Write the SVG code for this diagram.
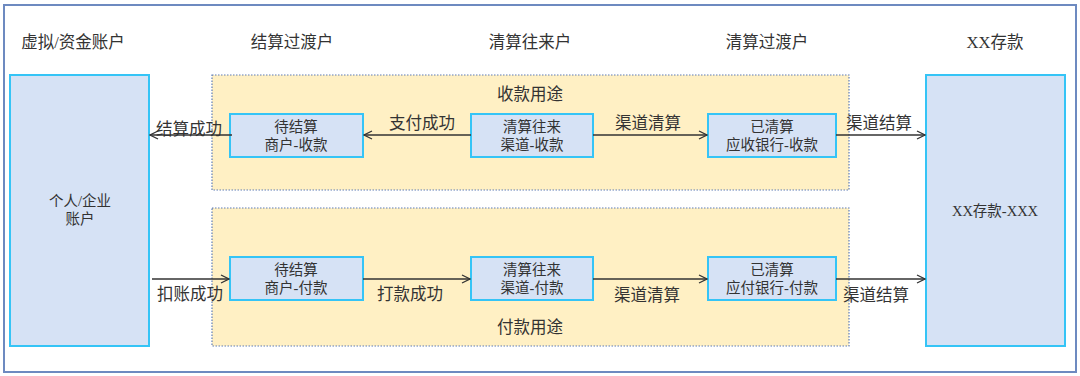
<svg xmlns="http://www.w3.org/2000/svg" width="1080" height="376" viewBox="0 0 1080 376">
<style>
text{font-family:"Liberation Serif","Noto Sans CJK SC",serif;fill:#333;text-anchor:middle}
.h{font-size:16.5px}
.n{font-size:14.5px}
.l{font-size:16.5px}
.big{fill:#d6e2f5;stroke:#35c4f6;stroke-width:2}
.node{fill:#d6e2f5;stroke:#35c4f6;stroke-width:2}
.grp{fill:#fff0c4;stroke:#5f7db5;stroke-width:1.2;stroke-dasharray:1.5 1.5}
.c{stroke:#333;stroke-width:1.3;fill:none;marker-end:url(#a)}
</style>
<defs>
<marker id="a" viewBox="0 0 10 10" refX="9" refY="5" markerWidth="10" markerHeight="10" markerUnits="userSpaceOnUse" orient="auto">
<path d="M1,1 L9,5 L1,9" fill="none" stroke="#333" stroke-width="1.3"/>
</marker>
</defs>
<rect x="0" y="0" width="1080" height="376" fill="#fff"/>
<rect x="4" y="5" width="1072" height="367" fill="none" stroke="#6d8ac0" stroke-width="2"/>
<g id="headers">
<text class="h" x="73" y="48">虚拟/资金账户</text>
<text class="h" x="292" y="48">结算过渡户</text>
<text class="h" x="530" y="48">清算往来户</text>
<text class="h" x="767" y="48">清算过渡户</text>
<text class="h" x="995" y="48">XX存款</text>
</g>
<g id="grp-recv">
<rect class="grp" x="212" y="75" width="637" height="115"/>
<text class="l" x="530" y="100">收款用途</text>
</g>
<g id="grp-pay">
<rect class="grp" x="212" y="208" width="637" height="138"/>
<text class="l" x="530" y="333">付款用途</text>
</g>
<g id="account">
<rect class="big" x="10" y="75" width="139" height="271"/>
<text class="n" x="80" y="206">个人/企业</text>
<text class="n" x="80" y="224">账户</text>
</g>
<g id="deposit">
<rect class="big" x="926" y="75" width="139" height="271"/>
<text class="n" x="995" y="216">XX存款-XXX</text>
</g>
<g id="n1">
<rect class="node" x="230" y="114" width="133" height="43"/>
<text class="n" x="296" y="132">待结算</text>
<text class="n" x="296" y="150">商户-收款</text>
</g>
<g id="n2">
<rect class="node" x="471" y="114" width="122" height="43"/>
<text class="n" x="532" y="132">清算往来</text>
<text class="n" x="532" y="150">渠道-收款</text>
</g>
<g id="n3">
<rect class="node" x="708" y="114" width="128" height="43"/>
<text class="n" x="772" y="132">已清算</text>
<text class="n" x="772" y="150">应收银行-收款</text>
</g>
<g id="n4">
<rect class="node" x="230" y="257" width="133" height="43"/>
<text class="n" x="296" y="275">待结算</text>
<text class="n" x="296" y="293">商户-付款</text>
</g>
<g id="n5">
<rect class="node" x="471" y="257" width="122" height="43"/>
<text class="n" x="532" y="275">清算往来</text>
<text class="n" x="532" y="293">渠道-付款</text>
</g>
<g id="n6">
<rect class="node" x="708" y="257" width="128" height="43"/>
<text class="n" x="772" y="275">已清算</text>
<text class="n" x="772" y="293">应付银行-付款</text>
</g>
<g id="connectors">
<line class="c" x1="232" y1="135" x2="150" y2="135"/>
<line class="c" x1="471" y1="135" x2="364" y2="135"/>
<line class="c" x1="593" y1="135" x2="707" y2="135"/>
<line class="c" x1="836" y1="135" x2="925" y2="135"/>
<line class="c" x1="152" y1="279" x2="229" y2="279"/>
<line class="c" x1="363" y1="279" x2="470" y2="279"/>
<line class="c" x1="593" y1="279" x2="707" y2="279"/>
<line class="c" x1="836" y1="279" x2="925" y2="279"/>
<text class="l" x="189" y="135">结算成功</text>
<text class="l" x="422" y="129">支付成功</text>
<text class="l" x="648" y="129">渠道清算</text>
<text class="l" x="879" y="129">渠道结算</text>
<text class="l" x="190" y="300">扣账成功</text>
<text class="l" x="410" y="300">打款成功</text>
<text class="l" x="647" y="301">渠道清算</text>
<text class="l" x="876" y="301">渠道结算</text>
</g>
</svg>
